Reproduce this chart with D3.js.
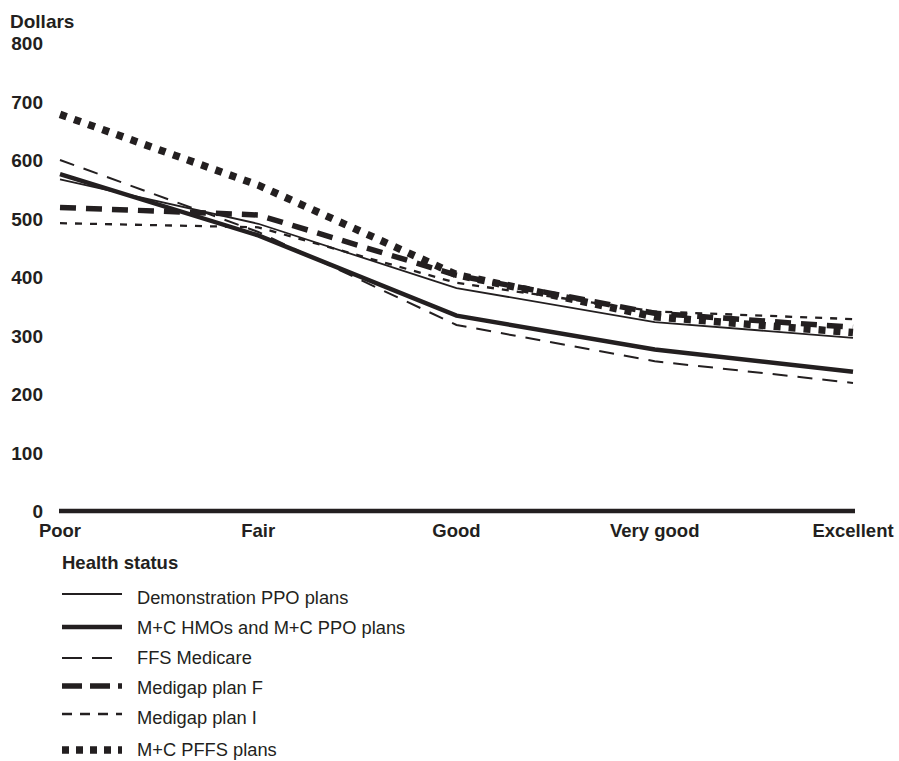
<!DOCTYPE html>
<html><head><meta charset="utf-8">
<script src="https://cdn.jsdelivr.net/npm/d3@7/dist/d3.min.js"></script>
<style>body{margin:0;background:#fff;}svg{display:block;font-family:"Liberation Sans",Arial,sans-serif;}</style>
</head><body><svg id="c" width="899" height="761"></svg>
<script>
const categories = ["Poor","Fair","Good","Very good","Excellent"];
const yTicks = [0,100,200,300,400,500,600,700,800];
const seriesNames = ["Demonstration PPO plans","M+C HMOs and M+C PPO plans","FFS Medicare","Medigap plan F","Medigap plan I","M+C PFFS plans"];
const demoPPO   = [567, 491, 381, 323, 296];
const hmoPPO    = [576, 471, 334, 276, 238];
const ffs       = [600, 477, 318, 256, 219];
const medigapF  = [519, 506, 403, 338, 314];
const medigapI  = [492, 485, 390, 341, 328];
const pffs      = [678, 557, 404, 332, 305];

const styles = [
  {w:1.8, dash:null, ldash:null},
  {w:4.5, dash:null, ldash:null},
  {w:2, dash:"15,10", ldash:"20,10"},
  {w:5.5, dash:"16,10", ldash:"20,8"},
  {w:2.3, dash:"7,8", ldash:"10,8"},
  {w:7.5, dash:"7,8", ldash:"7,7"}
];
const data = [demoPPO, hmoPPO, ffs, medigapF, medigapI, pffs];
const ink = "#231f20";

const svg = d3.select("#c");
const x = d3.scalePoint().domain(categories).range([60, 853]);
const y = d3.scaleLinear().domain([0,800]).range([511, 43]);

svg.append("text").attr("x",10).attr("y",28).attr("font-weight","bold").attr("font-size",19).attr("fill",ink).text("Dollars");
svg.selectAll(".yt").data(yTicks).enter().append("text")
  .attr("x",43).attr("y",d=>y(d)+7).attr("text-anchor","end").attr("font-weight","bold").attr("font-size",19).attr("fill",ink).text(d=>d);

svg.append("line").attr("x1",x(categories[0])-1).attr("x2",x(categories[4])+2).attr("y1",y(0)).attr("y2",y(0))
  .attr("stroke",ink).attr("stroke-width",4.5);
svg.selectAll(".xt").data(categories).enter().append("text")
  .attr("x",d=>x(d)).attr("y",537).attr("text-anchor","middle").attr("font-weight","bold").attr("font-size",18.5).attr("fill",ink).text(d=>d);

const line = d3.line().x((d,i)=>x(categories[i])).y(d=>y(d));
data.forEach((s,k)=>{
  const p = svg.append("path").attr("d",line(s)).attr("fill","none").attr("stroke",ink)
    .attr("stroke-width",styles[k].w).attr("stroke-linejoin","miter");
  if(styles[k].dash) p.attr("stroke-dasharray",styles[k].dash);
});

svg.append("text").attr("x",62).attr("y",569).attr("font-weight","bold").attr("font-size",18.5).attr("fill",ink).text("Health status");
const textY = [604, 634, 664, 694, 724, 756];
const lineY = [594, 627, 658, 686, 714, 750];
seriesNames.forEach((n,k)=>{
  const l = svg.append("line").attr("x1",62).attr("x2",122).attr("y1",lineY[k]).attr("y2",lineY[k])
    .attr("stroke",ink).attr("stroke-width",styles[k].w);
  if(styles[k].ldash) l.attr("stroke-dasharray", styles[k].ldash);
  svg.append("text").attr("x",137).attr("y",textY[k]).attr("font-size",18.3).attr("fill",ink).text(n);
});
</script></body></html>
